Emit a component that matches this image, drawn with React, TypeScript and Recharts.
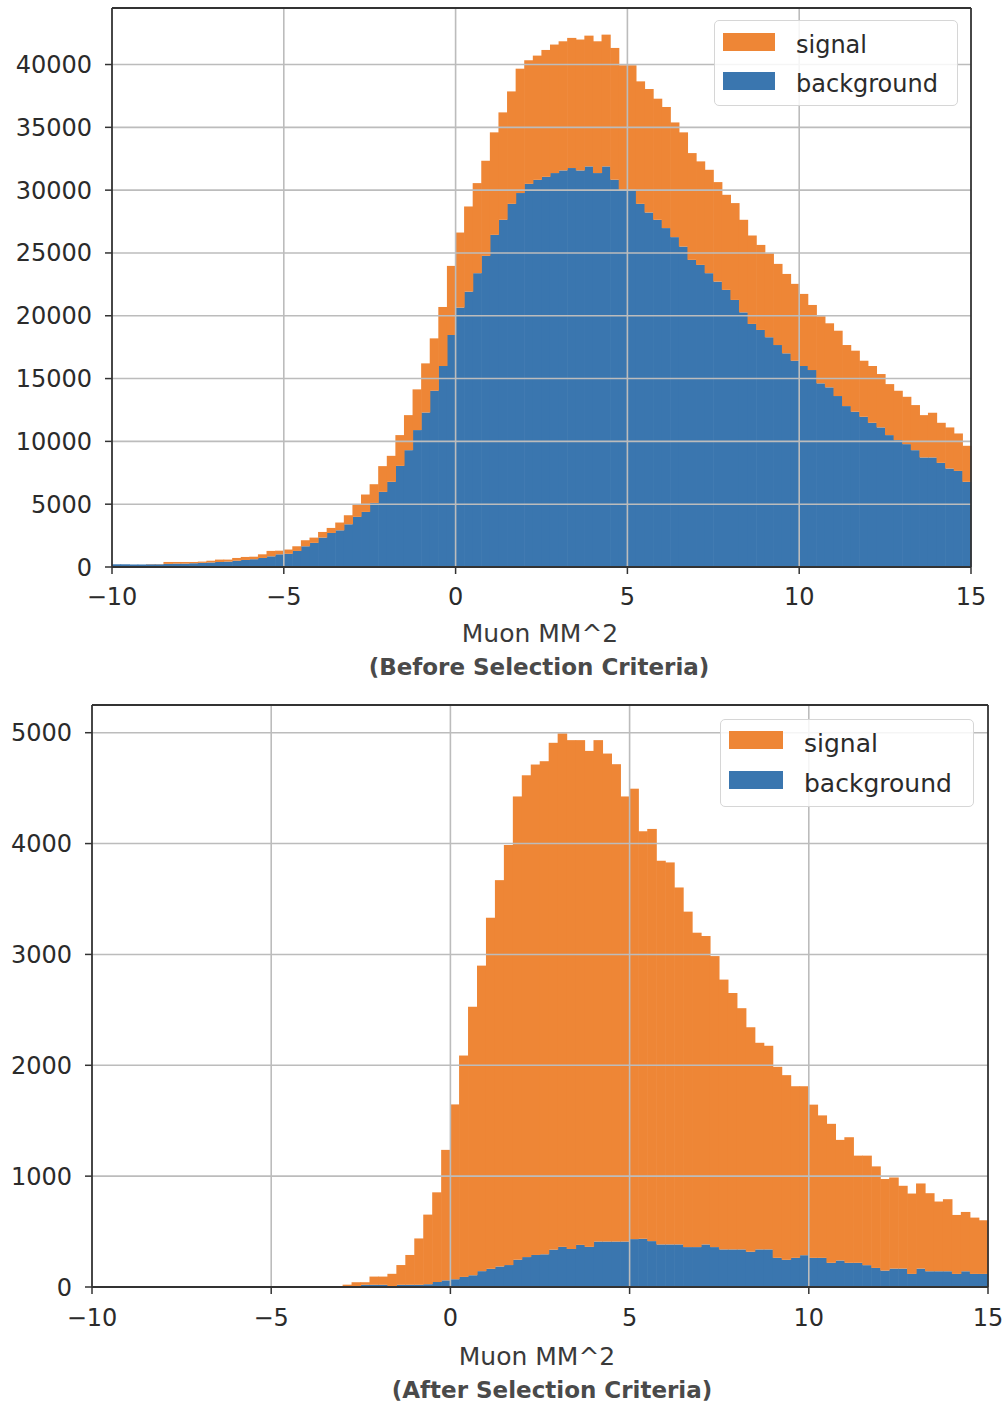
import { BarChart, Bar, XAxis, YAxis, ReferenceLine } from 'recharts'

// histogram bins: 100 bins of 0.25 from -10 to 15
const BIN_START = -10
const BIN_WIDTH = 0.25

const TOP_BACKGROUND = [
  215, 215, 200, 200, 215, 215, 250, 270, 270, 300,
  330, 360, 400, 430, 500, 560, 620, 720, 850, 1010,
  1050, 1280, 1650, 1920, 2340, 2710, 2920, 3400, 3990, 4385,
  5100, 5980, 6780, 8050, 9300, 10900, 12300, 14030, 16000, 18470,
  20650, 21920, 23390, 24770, 26440, 27640, 28910, 29770, 30500, 30820,
  31060, 31360, 31570, 31760, 31570, 31890, 31360, 31890, 30830, 30030,
  30030, 28910, 28220, 27640, 26980, 26260, 25510, 24450, 24050, 23390,
  22720, 22060, 21260, 20270, 19350, 18870, 18290, 17670, 17010, 16420,
  16000, 15680, 14620, 14300, 13610, 12810, 12360, 11960, 11480, 11110,
  10500, 10100, 9780, 9300, 8720, 8720, 8290, 7840, 7650, 6780,
]

const TOP_SIGNAL = [
  0, 0, 0, 0, 15, 15, 150, 130, 130, 100,
  100, 140, 190, 160, 220, 240, 200, 290, 430, 290,
  340, 370, 480, 420, 450, 400, 620, 720, 1010, 1385,
  1490, 2050, 2070, 2450, 2790, 3240, 3910, 4170, 4700, 5500,
  5975, 6780, 7170, 7570, 8160, 8550, 8950, 9900, 9840, 9890,
  10100, 10230, 10280, 10360, 10420, 10410, 10490, 10490, 10490, 9910,
  9910, 9750, 9830, 9640, 9640, 9130, 9090, 8500, 8240, 8230,
  7920, 7570, 7710, 7370, 7040, 6770, 6690, 6460, 6320, 6120,
  5740, 5180, 5340, 5100, 5200, 4860, 4860, 4460, 4520, 4250,
  4060, 3930, 3770, 3590, 3370, 3560, 3190, 3270, 2980, 2870,
]

const BOTTOM_BACKGROUND = [
  0, 0, 0, 0, 0, 0, 0, 0, 0, 0,
  0, 0, 0, 0, 0, 0, 0, 0, 0, 0,
  0, 0, 0, 0, 0, 0, 0, 0, 0, 5,
  20, 20, 20, 5, 20, 20, 20, 25, 45, 60,
  70, 91, 106, 143, 164, 185, 198, 246, 270, 289,
  295, 337, 362, 343, 380, 362, 410, 410, 410, 410,
  432, 435, 414, 384, 384, 384, 360, 360, 384, 360,
  339, 339, 339, 318, 339, 339, 263, 245, 263, 287,
  263, 263, 218, 239, 218, 218, 197, 172, 148, 166,
  166, 118, 166, 142, 142, 142, 118, 142, 118, 118,
]

const BOTTOM_SIGNAL = [
  0, 0, 0, 0, 0, 0, 0, 0, 0, 0,
  0, 0, 0, 0, 0, 0, 0, 0, 0, 0,
  0, 0, 0, 0, 0, 0, 0, 5, 21, 38,
  23, 74, 74, 114, 178, 269, 418, 628, 809, 1177,
  1577, 1997, 2422, 2756, 3167, 3485, 3789, 4179, 4346, 4424,
  4448, 4572, 4632, 4590, 4553, 4474, 4523, 4402, 4306, 4015,
  4063, 3676, 3718, 3461, 3446, 3220, 3026, 2836, 2782, 2625,
  2434, 2313, 2176, 2025, 1864, 1837, 1723, 1666, 1548, 1524,
  1382, 1285, 1254, 1088, 1133, 967, 988, 916, 826, 822,
  747, 725, 768, 704, 629, 650, 532, 535, 508, 484,
]

const X_TICKS = [-10, -5, 0, 5, 10, 15]
const TOP_Y_TICKS = [0, 5000, 10000, 15000, 20000, 25000, 30000, 35000, 40000]
const BOTTOM_Y_TICKS = [0, 1000, 2000, 3000, 4000, 5000]

const ORANGE = '#ee8636'
const BLUE = '#3a76af'
const GRID = '#bcbcbc'
const SPINE = '#333'
const TEXT = '#2b2b2b'

type Row = { x: number; background: number; signal: number }

const toRows = (bg: number[], sig: number[]): Row[] =>
  bg.map((b, i) => ({ x: BIN_START + (i + 0.5) * BIN_WIDTH, background: b, signal: sig[i] }))

const topData = toRows(TOP_BACKGROUND, TOP_SIGNAL)
const bottomData = toRows(BOTTOM_BACKGROUND, BOTTOM_SIGNAL)

const fmtX = (v: number) => (v < 0 ? '\u2212' + Math.abs(v) : String(v))

// histogram bars touch: widen each rect to the full bin width (plus a hair) around its centre
const binShape = (binPx: number, color: string) => (p: any) => {
  const { x, y, width, height } = p
  if (!height || height <= 0) return <g />
  const w = binPx + 0.6
  return <rect x={x + width / 2 - w / 2} y={y} width={w} height={height} fill={color} />
}

interface PanelProps {
  data: Row[]
  height: number
  margin: { top: number; right: number; bottom: number; left: number }
  yAxisWidth: number
  xAxisHeight: number
  yMax: number
  yTicks: number[]
  fontSize: number
  xTickMargin: number
}

function HistPanel({ data, height, margin, yAxisWidth, xAxisHeight, yMax, yTicks, fontSize, xTickMargin }: PanelProps) {
  const tick = { fontSize, fill: TEXT, fontFamily: 'DejaVu Sans' }
  const binPx = (1005 - margin.left - margin.right - yAxisWidth) / data.length
  return (
    <BarChart width={1005} height={height} data={data} margin={margin} barCategoryGap={0} barGap={0}>
      <XAxis xAxisId="bins" dataKey="x" type="category" hide height={0} />
      <XAxis
        xAxisId="val"
        dataKey="x"
        type="number"
        domain={[-10, 15]}
        ticks={X_TICKS}
        interval={0}
        allowDataOverflow
        height={xAxisHeight}
        tick={tick}
        tickSize={7}
        tickMargin={xTickMargin}
        tickFormatter={fmtX}
        axisLine={{ stroke: SPINE, strokeWidth: 1.8 }}
        tickLine={{ stroke: SPINE, strokeWidth: 1.5 }}
      />
      <YAxis
        type="number"
        domain={[0, yMax]}
        ticks={yTicks}
        interval={0}
        allowDataOverflow
        width={yAxisWidth}
        tick={tick}
        tickSize={7}
        tickMargin={13}
        axisLine={{ stroke: SPINE, strokeWidth: 1.8 }}
        tickLine={{ stroke: SPINE, strokeWidth: 1.5 }}
      />
      <Bar xAxisId="bins" dataKey="background" stackId="h" fill={BLUE} shape={binShape(binPx, BLUE)} isAnimationActive={false} />
      <Bar xAxisId="bins" dataKey="signal" stackId="h" fill={ORANGE} shape={binShape(binPx, ORANGE)} isAnimationActive={false} />
      {/* grid sits on top of the bars, like the pandas hist */}
      {X_TICKS.slice(1, -1).map(v => (
        <ReferenceLine key={'gx' + v} xAxisId="val" x={v} stroke={GRID} strokeWidth={1.6} />
      ))}
      {yTicks.slice(1).map(v => (
        <ReferenceLine key={'gy' + v} xAxisId="val" y={v} stroke={GRID} strokeWidth={1.6} />
      ))}
      <ReferenceLine xAxisId="val" x={15} stroke={SPINE} strokeWidth={1.8} />
      <ReferenceLine xAxisId="val" y={yMax} stroke={SPINE} strokeWidth={1.8} />
    </BarChart>
  )
}

function LegendBox({ left, top, width, height, fontSize, patchLeft, patchW, rows }: {
  left: number; top: number; width: number; height: number; fontSize: number
  patchLeft: number; patchW: number; rows: { label: string; color: string; y: number }[]
}) {
  return (
    <div style={{
      position: 'absolute', left, top, width, height, boxSizing: 'border-box',
      border: '1.5px solid #d6d6d6', borderRadius: 5, background: 'rgba(255,255,255,0.85)',
    }}>
      {rows.map(r => (
        <div key={r.label}>
          <div style={{ position: 'absolute', left: patchLeft, top: r.y, width: patchW, height: 18, background: r.color }} />
          <div style={{
            position: 'absolute', left: patchLeft + patchW + 21, top: r.y + 15 - fontSize * 0.62,
            fontSize, lineHeight: `${fontSize}px`, fontFamily: 'DejaVu Sans', color: TEXT, whiteSpace: 'nowrap',
          }}>{r.label}</div>
        </div>
      ))}
    </div>
  )
}

function Caption({ cx, cy, text, size, bold }: { cx: number; cy: number; text: string; size: number; bold?: boolean }) {
  return (
    <div style={{
      position: 'absolute', left: cx - 300, width: 600, top: cy - size * 0.5, textAlign: 'center',
      fontSize: size, lineHeight: `${size}px`, fontFamily: 'DejaVu Sans', fontWeight: bold ? 'bold' : 'normal',
      color: bold ? '#4a4a4a' : '#3a3a3a', whiteSpace: 'nowrap',
    }}>{text}</div>
  )
}

export default function App() {
  return (
    <div style={{ position: 'absolute', left: 0, top: 0, width: 1005, height: 1408, background: '#fff', overflow: 'hidden' }}>
      <div style={{ position: 'absolute', left: 0, top: 0 }}>
        <HistPanel
          data={topData}
          height={640}
          margin={{ top: 8, right: 34, bottom: 0, left: 0 }}
          yAxisWidth={112}
          xAxisHeight={73}
          yMax={44500}
          yTicks={TOP_Y_TICKS}
          fontSize={24}
          xTickMargin={14}
        />
      </div>
      <div style={{ position: 'absolute', left: 0, top: 690 }}>
        <HistPanel
          data={bottomData}
          height={660}
          margin={{ top: 15, right: 17, bottom: 0, left: 0 }}
          yAxisWidth={92}
          xAxisHeight={63}
          yMax={5250}
          yTicks={BOTTOM_Y_TICKS}
          fontSize={24}
          xTickMargin={15}
        />
      </div>

      <LegendBox
        left={714} top={20} width={244} height={86} fontSize={24} patchLeft={8} patchW={52}
        rows={[{ label: 'signal', color: ORANGE, y: 12 }, { label: 'background', color: BLUE, y: 51 }]}
      />
      <LegendBox
        left={720} top={719} width={254} height={88} fontSize={25} patchLeft={8} patchW={54}
        rows={[{ label: 'signal', color: ORANGE, y: 11 }, { label: 'background', color: BLUE, y: 51 }]}
      />

      <Caption cx={540} cy={633} text="Muon MM^2" size={25} />
      <Caption cx={539} cy={667} text="(Before Selection Criteria)" size={23} bold />
      <Caption cx={537} cy={1356} text="Muon MM^2" size={25} />
      <Caption cx={552} cy={1390} text="(After Selection Criteria)" size={23} bold />
    </div>
  )
}
